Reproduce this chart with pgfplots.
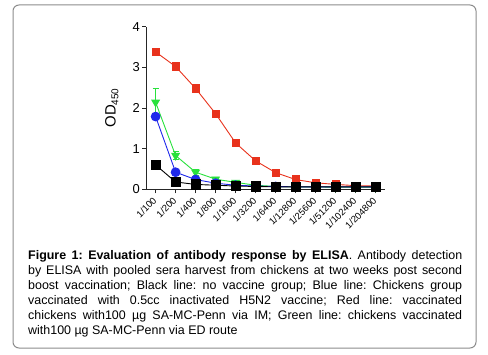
\documentclass[border=0pt]{standalone}
\usepackage{pgfplots}
\pgfplotsset{compat=1.18}
\usepackage{fontspec}
\setmainfont{Liberation Sans}
\definecolor{myred}{RGB}{232,50,28}
\definecolor{mygreen}{RGB}{40,225,60}
\definecolor{myblue}{RGB}{30,40,235}
\definecolor{frame}{RGB}{140,140,140}
\begin{document}
\frenchspacing
\begin{tikzpicture}[x=1bp,y=1bp]
\useasboundingbox (0,0) rectangle (488,354);
\draw[frame, line width=1bp, rounded corners=6bp] (13,6) rectangle (476,349);
\begin{axis}[
  at={(146bp,164.7bp)}, anchor=south west,
  scale only axis, width=239bp, height=162.6bp,
  axis lines=left, axis line style={-, line width=0.9bp, black!85},
  xmin=-0.48, xmax=11.47, ymin=0, ymax=4,
  xtick={0,...,11},
  xticklabels={1/100,1/200,1/400,1/800,1/1600,1/3200,1/6400,1/12800,1/25600,1/51200,1/102400,1/204800},
  ytick={0,1,2,3,4},
  tick style={black!85, line width=0.9bp},
  tick align=outside, major tick length=4bp,
  /pgf/number format/assume math mode=true,
  xticklabel style={yshift=-5bp, rotate=45, anchor=east, font=\fontsize{9.5}{9.5}\selectfont, inner sep=1bp},
  yticklabel style={font=\fontsize{13}{13}\selectfont, inner sep=2bp},
  ylabel={OD\raisebox{-0.35ex}{\fontsize{10}{10}\selectfont 450}},
  ylabel style={at={(axis description cs:-0.143,0.5)}, anchor=center, rotate=0, font=\fontsize{15}{15}\selectfont},
  clip=false,
  every axis plot/.append style={line width=0.9bp},
]
\addplot[myred, mark=square*, mark size=3.6bp, mark options={solid},
  error bars/.cd, y dir=both, y explicit, error bar style={line width=0.8bp}, error mark options={rotate=90, mark size=3bp, line width=0.8bp}]
coordinates {
(0,3.38) +- (0,0.07)
(1,3.02) +- (0,0.10)
(2,2.48) +- (0,0)
(3,1.86) +- (0,0)
(4,1.14) +- (0,0)
(5,0.70) +- (0,0)
(6,0.41) +- (0,0)
(7,0.24) +- (0,0)
(8,0.16) +- (0,0)
(9,0.12) +- (0,0)
(10,0.09) +- (0,0)
(11,0.08) +- (0,0)
};
\addplot[mygreen, mark=triangle*, mark size=4.3bp, mark options={rotate=180, solid},
  error bars/.cd, y dir=both, y explicit, error bar style={line width=0.8bp}, error mark options={rotate=90, mark size=3bp, line width=0.8bp}]
coordinates {
(0,2.14) +- (0,0.35)
(1,0.83) +- (0,0.10)
(2,0.42) +- (0,0.07)
(3,0.25) +- (0,0)
(4,0.17) +- (0,0)
(5,0.10) +- (0,0)
(6,0.07) +- (0,0)
(7,0.06) +- (0,0)
(8,0.06) +- (0,0)
(9,0.05) +- (0,0)
(10,0.05) +- (0,0)
(11,0.05) +- (0,0)
};
\addplot[myblue, mark=*, mark size=4.4bp]
coordinates {
(0,1.79) (1,0.42) (2,0.24) (3,0.15) (4,0.10) (5,0.08) (6,0.07) (7,0.06) (8,0.06) (9,0.06) (10,0.06) (11,0.06)
};
\addplot[black, mark=square*, mark size=4.6bp]
coordinates {
(0,0.60) (1,0.18) (2,0.12) (3,0.10) (4,0.08) (5,0.07) (6,0.06) (7,0.06) (8,0.06) (9,0.06) (10,0.06) (11,0.06)
};
\end{axis}
\node[anchor=north west, text width=434bp, align=justify, inner sep=0pt, font=\fontsize{12.5}{15.1}\selectfont\frenchspacing] at (28,104) {%
\textbf{Figure 1: Evaluation of antibody response by ELISA}. Antibody detection\linebreak
by ELISA with pooled sera harvest from chickens at two weeks post second\linebreak
boost vaccination; Black line: no vaccine group; Blue line: Chickens group\linebreak
vaccinated with 0.5cc inactivated H5N2 vaccine; Red line: vaccinated\linebreak
chickens with100 µg SA-MC-Penn via IM; Green line: chickens vaccinated\linebreak
with100 µg SA-MC-Penn via ED route};
\end{tikzpicture}
\end{document}
